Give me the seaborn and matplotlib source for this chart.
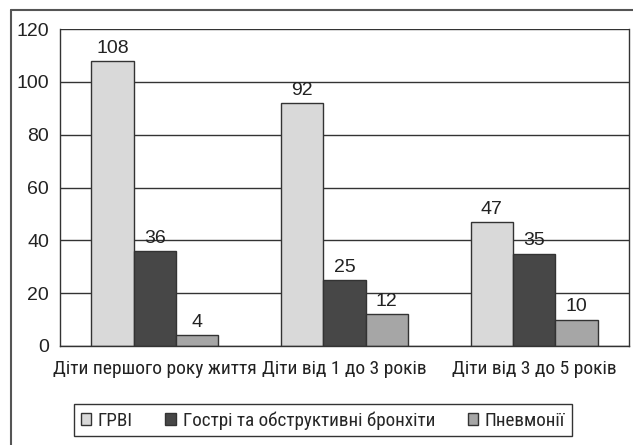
import pandas as pd
import matplotlib.pyplot as plt
import seaborn as sns
from matplotlib.lines import Line2D

# === Дані ===
categories = ["Діти першого року життя", "Діти від 1 до 3 років", "Діти від 3 до 5 років"]
series = ["ГРВІ", "Гострі та обструктивні бронхіти", "Пневмонії"]
grvi = [108, 92, 47]
bronchitis = [36, 25, 35]
pneumonia = [4, 12, 10]
colors = ["#d9d9d9", "#474747", "#a6a6a6"]

df = pd.DataFrame({
    "cat": categories * 3,
    "series": [series[0]] * 3 + [series[1]] * 3 + [series[2]] * 3,
    "val": grvi + bronchitis + pneumonia,
})

sns.set_style("white")
plt.rcParams["font.family"] = ["Liberation Sans", "DejaVu Sans"]
narrow = ["Roboto Condensed", "Liberation Sans Narrow", "Liberation Sans", "DejaVu Sans"]

fig = plt.figure(figsize=(6.33, 4.45), dpi=100)
ax = fig.add_axes([0.0948, 0.2225, 0.8989, 0.7123])

sns.barplot(data=df, x="cat", y="val", hue="series", palette=colors,
            edgecolor="#333333", linewidth=1.0, width=0.67, ax=ax)

for c in ax.containers:
    ax.bar_label(c, padding=3, fontsize=14, color="#222222")

ax.set_ylim(0, 120)
ax.set_yticks(range(0, 121, 20))
ax.set_xlim(-0.5, 2.5)
ax.yaxis.grid(True, color="#333333", linewidth=1.0)
ax.set_axisbelow(True)
ax.set_xlabel("")
ax.set_ylabel("")

# подільники категорій
ax.set_xticks([0, 1, 2])
ax.set_xticklabels(categories, fontsize=14, family=narrow, color="#222222")
ax.set_xticks([0.5, 1.5], minor=True)
ax.tick_params(axis="x", which="major", length=0, pad=10)
ax.tick_params(axis="x", which="minor", length=5, width=1, color="#333333", direction="out")
ax.tick_params(axis="y", length=5, width=1, color="#333333", direction="out",
               labelsize=14, labelcolor="#222222", pad=3)

for side in ["left", "right", "bottom"]:
    ax.spines[side].set_visible(True)
    ax.spines[side].set_color("#333333")
    ax.spines[side].set_linewidth(1.0)
ax.spines["top"].set_visible(False)

# легенда внизу
handles = [plt.Rectangle((0, 0), 1, 1, facecolor=col, edgecolor="#333333", linewidth=1.0)
           for col in colors]
ax.get_legend().remove()
fig.legend(handles, series, loc="center", bbox_to_anchor=(0.51, 0.0555), ncol=3,
           frameon=True, fancybox=False, edgecolor="#333333", framealpha=1,
           prop={"family": narrow, "size": 13.8}, handlelength=0.55, handleheight=0.55,
           handletextpad=0.35, columnspacing=1.7, borderpad=0.35)

# рамка навколо малюнка
fig.add_artist(Line2D([0.0174, 1.0], [0.9775, 0.9775], color="#555555", linewidth=1.5,
                      transform=fig.transFigure))
fig.add_artist(Line2D([0.0174, 0.0174], [0.0, 0.9775], color="#555555", linewidth=1.5,
                      transform=fig.transFigure))

fig.savefig("out.png", dpi=100)
